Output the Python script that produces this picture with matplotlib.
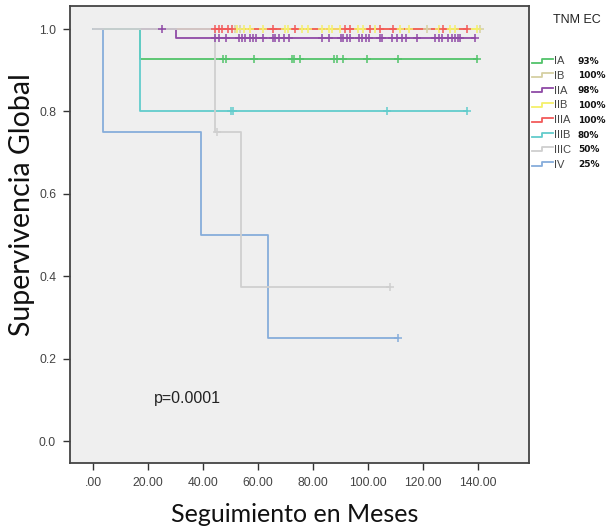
import numpy as np
import matplotlib
matplotlib.use("Agg")
import matplotlib.pyplot as plt
from matplotlib.lines import Line2D

# ---- data ----
groups = ["IA", "IB", "IIA", "IIB", "IIIA", "IIIB", "IIIC", "IV"]
pct_labels = ["93%", "100%", "98%", "100%", "100%", "80%", "50%", "25%"]
colors = ["#52c36a", "#d6d0a2", "#8f4aa6", "#f4f06a", "#f25a5a", "#62cccc", "#cfcfcf", "#86addb"]

# event times and survival after each event
ia_events = [17.0];                ia_surv = [0.927]
ib_events = [];                    ib_surv = []
iia_events = [30.0];               iia_surv = [0.978]
iib_events = [];                   iib_surv = []
iiia_events = [];                  iiia_surv = []
iiib_events = [17.0];              iiib_surv = [0.80]
iiic_events = [44.4, 53.8];        iiic_surv = [0.75, 0.375]
iv_events = [3.6, 39.3, 63.6];     iv_surv = [0.75, 0.50, 0.25]

# end of follow-up for each group
end_times = [139.6, 140.8, 138.7, 139.5, 135.8, 136.0, 108.0, 111.0]

# censored observation times
ia_cens = [47.3, 48.2, 58.5, 72.2, 73.2, 75.3, 87.6, 88.6, 91.0, 99.6, 111.0, 139.6]
ib_cens = [51.6, 53.5, 121.3, 140.8]
iia_cens = [25.0, 44.4, 45.6, 48.2, 52.9, 54.3, 55.3, 57.1, 58.3, 59.2, 61.6, 65.3, 66.2,
            67.6, 69.5, 71.3, 83.2, 85.6, 90.2, 91.0, 92.2, 93.5, 96.7, 97.7, 99.3,
            100.4, 104.4, 105.0, 108.6, 110.4, 112.2, 113.8, 117.7, 124.4, 125.6,
            126.8, 129.2, 130.4, 131.6, 132.8, 133.5, 138.7]
iib_cens = [52.2, 54.7, 57.1, 61.9, 69.8, 71.0, 75.9, 78.3, 83.2, 85.6, 86.8, 89.8,
            96.5, 98.3, 102.5, 111.6, 114.7, 125.6, 129.8, 131.6, 139.5]
iiia_cens = [44.4, 45.6, 46.8, 49.2, 50.4, 65.3, 73.5, 91.6, 93.5, 100.7, 104.4,
             109.2, 127.4, 135.8]
iiib_cens = [50.2, 51.0, 107.0, 136.0]
iiic_cens = [45.0, 108.0]
iv_cens = [111.0]

events = [ia_events, ib_events, iia_events, iib_events, iiia_events, iiib_events, iiic_events, iv_events]
survs = [ia_surv, ib_surv, iia_surv, iib_surv, iiia_surv, iiib_surv, iiic_surv, iv_surv]
cens = [ia_cens, ib_cens, iia_cens, iib_cens, iiia_cens, iiib_cens, iiic_cens, iv_cens]

x_ticks = [0, 20, 40, 60, 80, 100, 120, 140]
x_tick_labels = [".00", "20.00", "40.00", "60.00", "80.00", "100.00", "120.00", "140.00"]
y_ticks = [0.0, 0.2, 0.4, 0.6, 0.8, 1.0]
y_tick_labels = ["0.0", "0.2", "0.4", "0.6", "0.8", "1.0"]

# ---- figure ----
fig = plt.figure(figsize=(6.10, 5.31), dpi=100)
fig.patch.set_facecolor("white")
ax = fig.add_axes([70/610, 1-463/531, (529-70)/610, (463-6)/531])
ax.set_facecolor("#efefef")

def step_value(t, ev, sv):
    s = 1.0
    for e, v in zip(ev, sv):
        if t >= e:
            s = v
    return s

draw_order = [1, 3, 4, 2, 0, 5, 7, 6]
for i in draw_order:
    ev, sv, end = events[i], survs[i], end_times[i]
    xs = [0.0] + list(ev) + [end]
    ys = [1.0] + list(sv) + [sv[-1] if sv else 1.0]
    ax.step(xs, ys, where="post", color=colors[i], lw=1.3, zorder=2 + draw_order.index(i) * 0.1)
    cy = [step_value(t, ev, sv) for t in cens[i]]
    ax.plot(cens[i], cy, ls="none", marker="+", ms=5.5, mew=1.1, color=colors[i],
            zorder=3 + draw_order.index(i) * 0.1)

ax.set_xlim(-8.4, 158.5)
ax.set_ylim(-0.053, 1.056)
ax.set_xticks(x_ticks)
ax.set_xticklabels(x_tick_labels, fontsize=8.7, color="#444444", family="Liberation Sans")
ax.set_yticks(y_ticks)
ax.set_yticklabels(y_tick_labels, fontsize=8.7, color="#444444", family="Liberation Sans")
ax.tick_params(direction="out", length=5, width=1, color="#333333", pad=5)
for sp in ax.spines.values():
    sp.set_color("#444444")
    sp.set_linewidth(1.3)

ax.set_xlabel("Seguimiento en Meses", fontsize=18, family="Lato", color="#111111")
ax.xaxis.set_label_coords((295 - 70) / 459, (463 - 503) / 457)
ax.set_ylabel("Supervivencia Global", fontsize=20.5, family="Lato", color="#111111")
ax.yaxis.set_label_coords((35 - 70) / 459, (463 - 204.5) / 457)

ax.text(22, 0.104, "p=0.0001", fontsize=11.5, color="#222222", family="Liberation Sans",
        va="center", ha="left")

# ---- legend (outside, right) ----
fig.text(553/610, 1-20/531, "TNM EC", fontsize=9, family="Liberation Sans",
         color="#222222", va="center", ha="left")
y0 = 61
dy = 14.8
for k, (g, p, c) in enumerate(zip(groups, pct_labels, colors)):
    yc = y0 + k * dy
    xs = np.array([532, 542, 542, 553]) / 610
    ys = 1 - np.array([yc + 1.5, yc + 1.5, yc - 2.5, yc - 2.5]) / 531
    fig.add_artist(Line2D(xs, ys, color=c, lw=1.3, transform=fig.transFigure))
    fig.text(554/610, 1 - yc/531, g, fontsize=8, family="Liberation Sans",
             color="#444444", va="center", ha="left")
    fig.text(578/610, 1 - yc/531, p, fontsize=6.5, family="DejaVu Sans", weight="bold",
             color="#111111", va="center", ha="left")

fig.savefig("out.png", dpi=100)
